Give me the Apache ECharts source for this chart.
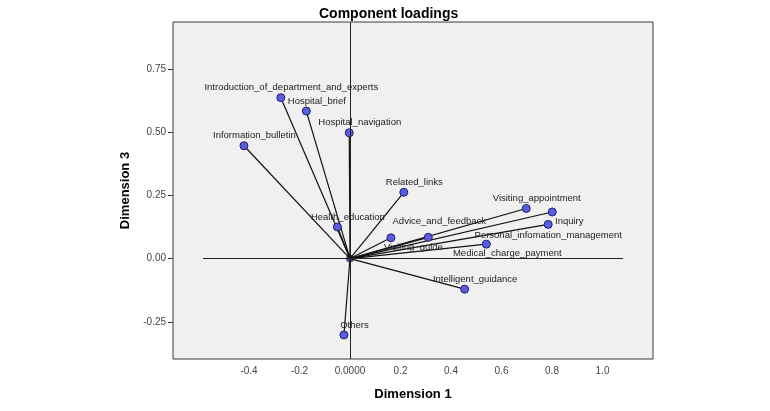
<!DOCTYPE html>
<html>
<head>
<meta charset="utf-8">
<script src="https://cdn.jsdelivr.net/npm/echarts@6/dist/echarts.min.js"></script>
<style>html,body{margin:0;padding:0;background:#fff}#c{width:770px;height:411px}</style>
</head>
<body>
<div id="c"></div>
<script>
// ---- data ----
const categories = [
  'Introduction_of_department_and_experts', 'Hospital_brief', 'Hospital_navigation',
  'Information_bulletin', 'Related_links', 'Visiting_appointment', 'Inquiry',
  'Personal_infomation_management', 'Medical_charge_payment', 'Advice_and_feedback',
  'Visiting_guide', 'Health_education', 'Intelligent_guidance', 'Others'
];
const dim1 = [-0.274, -0.173, -0.003, -0.420, 0.213, 0.698, 0.801, 0.785, 0.540, 0.310, 0.162, -0.050, 0.454, -0.024];
const dim3 = [0.636, 0.583, 0.497, 0.446, 0.262, 0.198, 0.184, 0.135, 0.057, 0.084, 0.082, 0.125, -0.121, -0.302];
const xTicks = [-0.4, -0.2, 0, 0.2, 0.4, 0.6, 0.8, 1.0];
const yTicks = [-0.25, 0, 0.25, 0.5, 0.75];
const xRange = [-0.701, 1.20];
const yRange = [-0.397, 0.935];
const zeroLineExtent = [-0.582, 1.081];

// ---- label placement (style only) ----
const defaultOffset = [10.5, -10];
const labelOffsets = {
  'Advice_and_feedback': [11, -15.5],
  'Visiting_guide': [22.5, 9.6],
  'Inquiry': [17, 9.7],
  'Personal_infomation_management': [0, 10.7],
  'Medical_charge_payment': [21, 9.7]
};

const font = 'Liberation Sans, Arial, sans-serif';
const pts = categories.map((n, i) => ({
  name: n,
  value: [dim1[i], dim3[i]],
  label: { offset: labelOffsets[n] || defaultOffset }
}));
const vectors = categories.map((n, i) => ({ coords: [[0, 0], [dim1[i], dim3[i]]] }));

const chart = echarts.init(document.getElementById('c'), null, { renderer: 'canvas' });
chart.setOption({
  animation: false,
  backgroundColor: '#ffffff',
  title: {
    text: 'Component loadings', left: 314, top: 2,
    textStyle: { fontFamily: font, fontSize: 14, fontWeight: 'bold', color: '#000' }
  },
  grid: {
    left: 173, top: 22, width: 480, height: 337, show: true,
    backgroundColor: '#f0f0f0', borderColor: '#3a3a3a', borderWidth: 1
  },
  xAxis: {
    type: 'value', min: xRange[0], max: xRange[1],
    name: 'Dimension 1', nameLocation: 'middle', nameGap: 29,
    nameTextStyle: { fontFamily: font, fontSize: 13, fontWeight: 'bold', color: '#000' },
    axisLine: { show: false, onZero: false },
    axisTick: { show: false, customValues: xTicks },
    splitLine: { show: false },
    axisLabel: {
      customValues: xTicks, margin: 7, fontFamily: font, fontSize: 10, color: '#444',
      formatter: v => Math.abs(v) < 1e-9 ? '0.0000' : v.toFixed(1)
    }
  },
  yAxis: {
    type: 'value', min: yRange[0], max: yRange[1],
    name: 'Dimension 3', nameLocation: 'middle', nameGap: 33, nameRotate: 90,
    nameTextStyle: { fontFamily: font, fontSize: 13, fontWeight: 'bold', color: '#000' },
    axisLine: { show: false, onZero: false },
    axisTick: { show: true, customValues: yTicks, length: 5, lineStyle: { color: '#333' } },
    splitLine: { show: false },
    axisLabel: {
      customValues: yTicks, margin: 7, fontFamily: font, fontSize: 10, color: '#444',
      formatter: v => v.toFixed(2)
    }
  },
  series: [
    {
      type: 'scatter', z: 1, silent: true,
      data: [[0, 0]], symbolSize: 7,
      itemStyle: { color: '#3a3aa8', borderColor: '#1a1a5a', borderWidth: 1 },
      markLine: {
        silent: true, symbol: 'none', animation: false,
        lineStyle: { color: '#222', width: 1, type: 'solid' },
        label: { show: false },
        data: [
          { xAxis: 0 },
          [{ coord: [zeroLineExtent[0], 0] }, { coord: [zeroLineExtent[1], 0] }]
        ]
      }
    },
    {
      type: 'lines', coordinateSystem: 'cartesian2d', z: 2, silent: true,
      data: vectors,
      lineStyle: { color: '#111', width: 1.2, opacity: 1 }
    },
    {
      type: 'scatter', z: 3, data: pts, symbolSize: 8,
      itemStyle: { color: '#5c5ce0', borderColor: '#20206a', borderWidth: 1, opacity: 1 },
      label: {
        show: true, position: 'inside', formatter: p => p.name,
        align: 'center', verticalAlign: 'middle',
        fontFamily: font, fontSize: 9.5, color: '#222'
      }
    }
  ]
});
</script>
</body>
</html>
